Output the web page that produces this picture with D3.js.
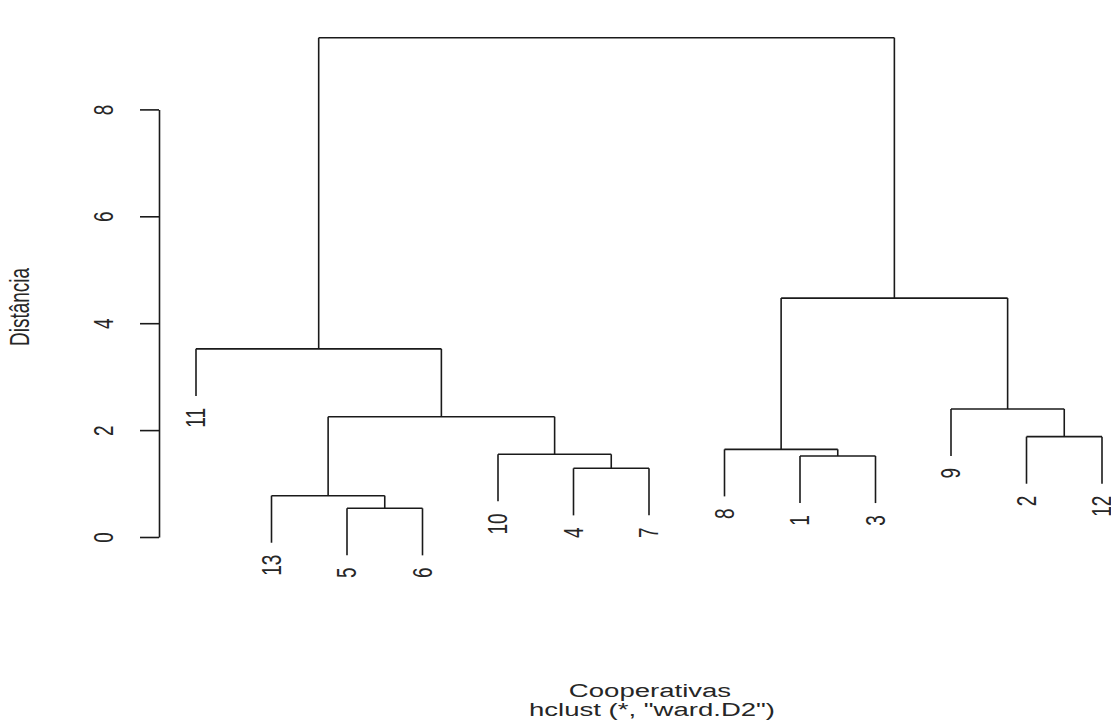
<!DOCTYPE html>
<html>
<head>
<meta charset="utf-8">
<script src="https://cdn.jsdelivr.net/npm/d3@7"></script>
<style>
  body { margin: 0; background: #fff; }
  svg text { font-family: "Liberation Sans", Arial, sans-serif; fill: #262626; }
</style>
</head>
<body>
<svg id="chart" width="1111" height="727"></svg>
<script>
// leaf order along the x axis
var leafOrder = ["11", "13", "5", "6", "10", "4", "7", "8", "1", "3", "9", "2", "12"];

// hclust style merge table: negative = leaf label, positive = earlier merge (1-based)
var mergeLeft = [-5, -13, -4, -1, -10, -8, -2, 2, -9, -11, 6, 10];
var mergeRight = [-6, 1, -7, -3, 3, 4, -12, 5, 7, 8, 9, 11];
var mergeHeight = [0.537, 0.773, 1.285, 1.515, 1.547, 1.64, 1.877, 2.25, 2.395, 3.52, 4.47, 9.34];

var yTicks = [0, 2, 4, 6, 8];

var svg = d3.select("#chart");
var sx = 1.45; // text is stretched horizontally in the original image

// scales
var x = d3.scaleLinear().domain([1, leafOrder.length]).range([196, 1102]);
var y = d3.scaleLinear().domain([0, 8]).range([537, 109.4]);

var hang = 0.1 * (d3.max(mergeHeight) - d3.min(mergeHeight));

// x position of a leaf or merge
var mergeX = [];
function nodeX(id) {
  if (id < 0) return x(leafOrder.indexOf(String(-id)) + 1);
  return mergeX[id - 1];
}
mergeLeft.forEach(function (l, i) {
  mergeX[i] = (nodeX(l) + nodeX(mergeRight[i])) / 2;
});

var g = svg.append("g")
  .attr("fill", "none")
  .attr("stroke", "#1a1a1a")
  .attr("stroke-width", 1.6);

var leafEnds = [];
mergeLeft.forEach(function (l, i) {
  var h = mergeHeight[i];
  [l, mergeRight[i]].forEach(function (c) {
    var bottom = c < 0 ? h - hang : mergeHeight[c - 1];
    if (c < 0) leafEnds.push({ label: String(-c), x: nodeX(c), h: bottom });
    g.append("line")
      .attr("x1", nodeX(c)).attr("x2", nodeX(c))
      .attr("y1", y(h)).attr("y2", y(bottom));
  });
  g.append("line")
    .attr("x1", nodeX(l)).attr("x2", nodeX(mergeRight[i]))
    .attr("y1", y(h)).attr("y2", y(h));
});

// leaf labels, rotated, hanging below each leaf
svg.selectAll(".leaf")
  .data(leafEnds)
  .enter()
  .append("text")
  .attr("class", "leaf")
  .attr("font-size", "19px")
  .attr("text-anchor", "end")
  .attr("dominant-baseline", "central")
  .attr("transform", function (d) {
    return "translate(" + d.x + "," + (y(d.h) + 12) + ") scale(" + sx + ",1) rotate(-90)";
  })
  .text(function (d) { return d.label; });

// y axis
var axis = svg.append("g")
  .attr("transform", "translate(159,0)")
  .call(d3.axisLeft(y).tickValues(yTicks).tickSize(19).tickSizeOuter(0).tickFormat(d3.format("d")));
axis.select(".domain").attr("stroke", "#1a1a1a").attr("stroke-width", 1.6);
axis.selectAll(".tick line").attr("stroke", "#1a1a1a").attr("stroke-width", 1.6);
axis.selectAll(".tick text")
  .attr("x", null)
  .attr("dy", null)
  .attr("font-size", "19px")
  .attr("font-family", "Liberation Sans, Arial, sans-serif")
  .attr("fill", "#262626")
  .attr("text-anchor", "middle")
  .attr("dominant-baseline", "central")
  .attr("transform", "translate(-55,0) scale(" + sx + ",1) rotate(-90)");

// axis titles
svg.append("text")
  .attr("font-size", "19px")
  .attr("text-anchor", "middle")
  .attr("dominant-baseline", "central")
  .attr("transform", "translate(20,307) scale(" + sx + ",1) rotate(-90)")
  .text("Distância");

svg.append("text")
  .attr("font-size", "19px")
  .attr("text-anchor", "middle")
  .attr("transform", "translate(650,697) scale(" + sx + ",1)")
  .text("Cooperativas");

svg.append("text")
  .attr("font-size", "19px")
  .attr("text-anchor", "middle")
  .attr("transform", "translate(652,716) scale(" + sx + ",1)")
  .text("hclust (*, \"ward.D2\")");
</script>
</body>
</html>
